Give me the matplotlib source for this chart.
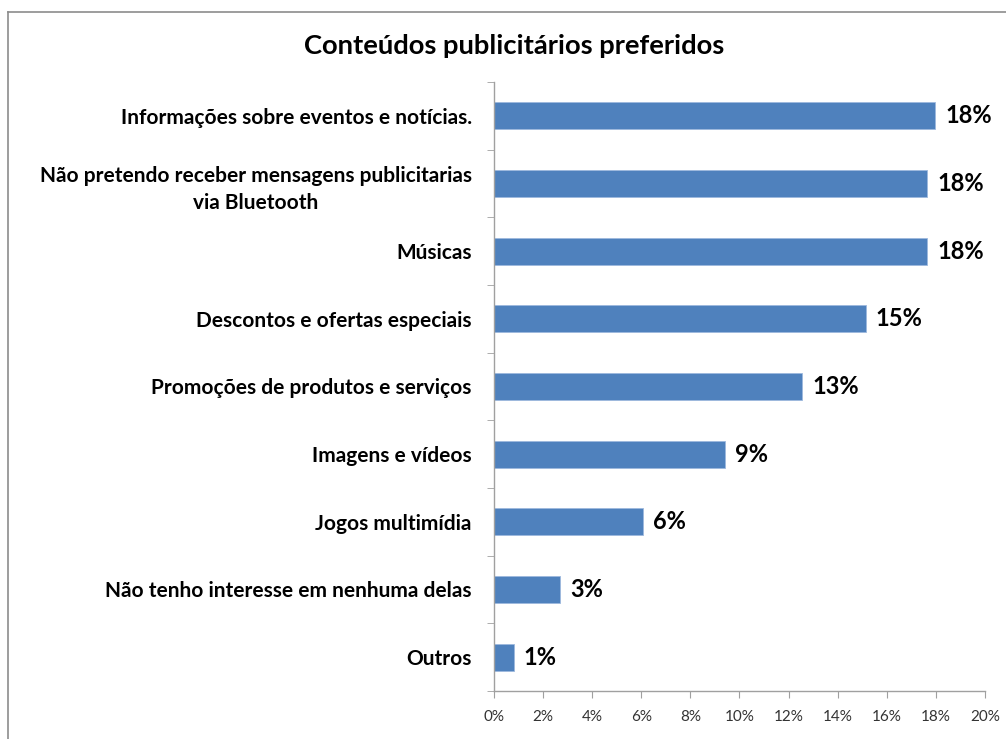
import matplotlib
matplotlib.use("Agg")
import matplotlib.pyplot as plt
from matplotlib.lines import Line2D

# data (top to bottom as in the chart)
categories = [
    "Informações sobre eventos e notícias.",
    "Não pretendo receber mensagens publicitarias\nvia Bluetooth",
    "Músicas",
    "Descontos e ofertas especiais",
    "Promoções de produtos e serviços",
    "Imagens e vídeos",
    "Jogos multimídia",
    "Não tenho interesse em nenhuma delas",
    "Outros",
]
values = [17.98, 17.65, 17.65, 15.14, 12.57, 9.40, 6.07, 2.70, 0.81]
value_labels = ["18%", "18%", "18%", "15%", "13%", "9%", "6%", "3%", "1%"]
xticks = [0, 2, 4, 6, 8, 10, 12, 14, 16, 18, 20]

plt.rcParams["font.family"] = ["Lato", "DejaVu Sans"]

fig = plt.figure(figsize=(10.06, 7.39), dpi=100)
ax = fig.add_axes([0.491, 0.065, 0.488, 0.824])

n = len(categories)
ypos = list(range(n))[::-1]
bar_color = "#4F81BD"
ax.barh(ypos, values, height=0.4, color=bar_color, edgecolor="#9DB9DE", linewidth=0.6)

for y, v, lab in zip(ypos, values, value_labels):
    ax.text(v + 0.4, y, lab, va="center", ha="left", fontsize=17,
            fontweight="bold", color="black")

ax.set_xlim(0, 20)
ax.set_ylim(-0.5, n - 0.5)
ax.set_xticks(xticks)
ax.set_xticklabels([f"{t}%" for t in xticks], fontsize=11, color="#333333")
ax.set_yticks(ypos)
ax.set_yticklabels(categories, fontsize=15, fontweight="bold", linespacing=1.45)
for t in ax.get_yticklabels():
    t.set_multialignment("center")
ax.set_yticks([i - 0.5 for i in range(n + 1)], minor=True)
ax.tick_params(axis="y", which="major", length=0, pad=16)
ax.tick_params(axis="y", which="minor", length=5, color="#A0A0A0", direction="out")
ax.tick_params(axis="x", which="major", length=5, color="#A0A0A0", direction="out", pad=9)

for side in ["top", "right"]:
    ax.spines[side].set_visible(False)
for side in ["left", "bottom"]:
    ax.spines[side].set_color("#A0A0A0")
    ax.spines[side].set_linewidth(1.0)

fig.text(0.511, 0.938, "Conteúdos publicitários preferidos", ha="center", va="center",
         fontsize=19.7, fontweight="bold")

# outer chart border (left and top)
fig.add_artist(Line2D([8 / 1006, 8 / 1006], [0, 1 - 12 / 739], color="#8C8C8C", lw=1.2,
                      transform=fig.transFigure))
fig.add_artist(Line2D([8 / 1006, 1], [1 - 12 / 739, 1 - 12 / 739], color="#8C8C8C", lw=1.2,
                      transform=fig.transFigure))

fig.savefig("out.png", dpi=100)
